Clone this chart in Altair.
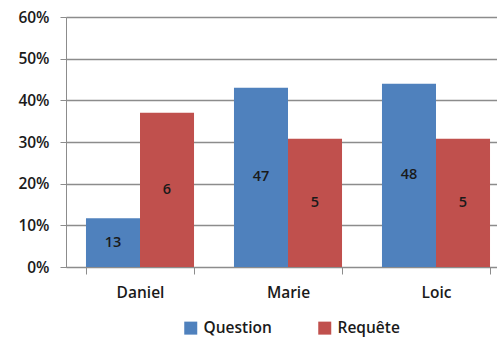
import altair as alt
import pandas as pd

names = ["Daniel", "Marie", "Loic"]
series = ["Question", "Requête"]
question_pct = [0.117, 0.430, 0.440]
requete_pct = [0.370, 0.308, 0.308]
question_n = [13, 47, 48]
requete_n = [6, 5, 5]

rows = []
for i, n in enumerate(names):
    rows.append({"name": n, "serie": series[0], "pct": question_pct[i], "half": question_pct[i] / 2, "n": question_n[i]})
    rows.append({"name": n, "serie": series[1], "pct": requete_pct[i], "half": requete_pct[i] / 2, "n": requete_n[i]})
df = pd.DataFrame(rows)

FONT = "Open Sans"
TXT = "#1a1a1a"
FS = 15.5
FW = 600

x = alt.X("name:N", sort=names, title=None,
          scale=alt.Scale(range=[0, 444], paddingInner=0.27, paddingOuter=0.135),
          axis=alt.Axis(labelAngle=0, tickBand="extent", domainColor="#8c8c8c", tickColor="#8c8c8c",
                        tickSize=7, labelPadding=11, labelFontSize=FS, labelFont=FONT,
                        labelFontWeight=FW, labelColor=TXT, grid=False))
xo = alt.XOffset("serie:N", sort=series, scale=alt.Scale(paddingInner=0))
color = alt.Color("serie:N", sort=series,
                  scale=alt.Scale(domain=series, range=["#4f81bd", "#c0504d"]),
                  legend=alt.Legend(title=None, orient="none", legendX=117, legendY=303,
                                    direction="horizontal", symbolType="square", symbolSize=169,
                                    symbolStrokeWidth=0, labelFontSize=FS, labelFont=FONT,
                                    labelFontWeight=FW, labelColor=TXT, labelOffset=5,
                                    columnPadding=45, padding=0))

bars = alt.Chart(df).mark_bar().encode(
    x=x, xOffset=xo,
    y=alt.Y("pct:Q", title=None,
            scale=alt.Scale(domain=[0, 0.6], nice=False),
            axis=alt.Axis(format=".0%", values=[0, 0.1, 0.2, 0.3, 0.4, 0.5, 0.6],
                          gridColor="#8c8c8c", gridWidth=1.3, domainColor="#8c8c8c",
                          tickColor="#8c8c8c", tickSize=6, labelPadding=11,
                          labelFontSize=FS, labelFont=FONT, labelFontWeight=FW,
                          labelColor=TXT)),
    color=color,
)

labels = alt.Chart(df).mark_text(font=FONT, fontSize=FS - 1, fontWeight=FW, color=TXT,
                                  baseline="middle").encode(
    x=alt.X("name:N", sort=names), xOffset=xo,
    y=alt.Y("half:Q"),
    text="n:Q",
)

chart = (bars + labels).properties(
    width=431, height=250,
    padding={"left": 66, "top": 17, "right": 0, "bottom": 76},
    autosize=alt.AutoSizeParams(type="none"),
).configure_view(stroke=None).configure(background="white")

chart.save("out.html", embed_options={"renderer": "svg", "actions": False})
